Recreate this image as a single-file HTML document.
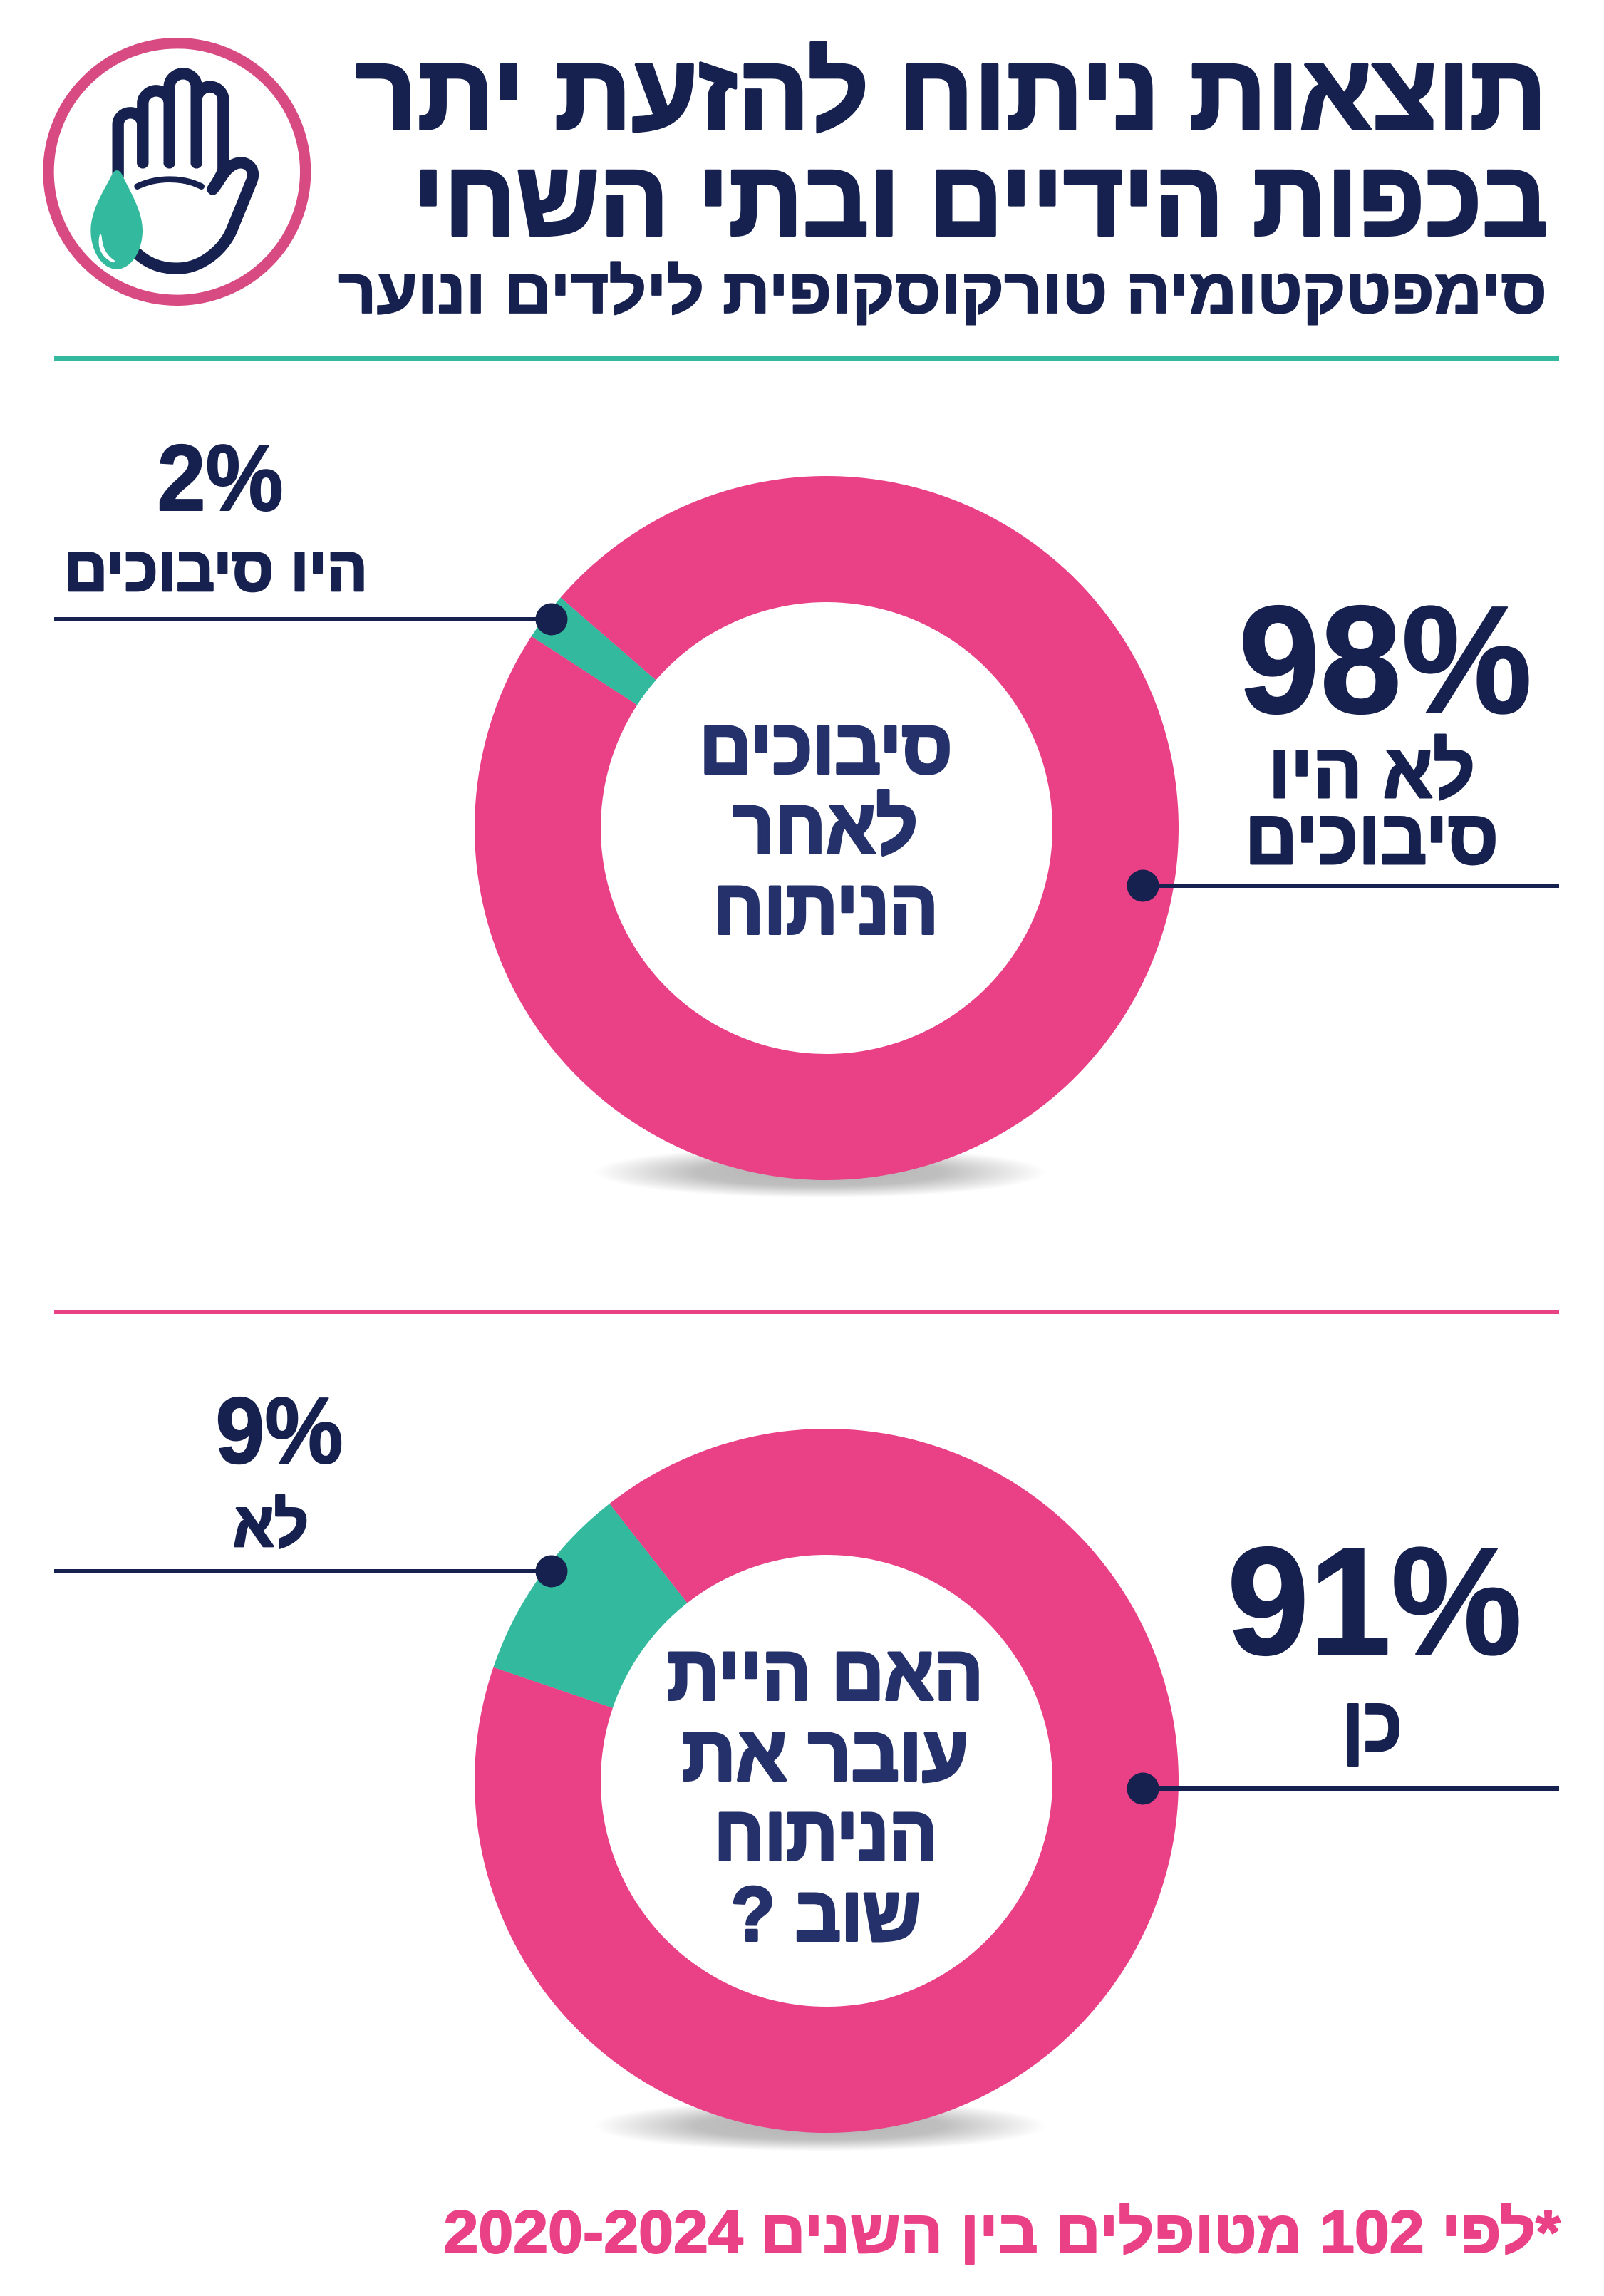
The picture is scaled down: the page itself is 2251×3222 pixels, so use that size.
<!DOCTYPE html>
<html lang="he">
<head>
<meta charset="utf-8">
<title>תוצאות ניתוח להזעת יתר</title>
<style>
html,body{margin:0;padding:0;background:#fff;}
svg{display:block;}
text{font-family:"Liberation Sans","Noto Sans CJK JP",sans-serif;font-weight:700;text-anchor:middle;stroke-linejoin:round;}
.he{direction:rtl;}
.navy{fill:#16214f;stroke:#16214f;}
.mid{fill:#24316a;stroke:#24316a;stroke-width:4;}
.s2{stroke-width:2;}
.s3{stroke-width:3;}
.s4{stroke-width:4;}
</style>
</head>
<body>
<svg xmlns="http://www.w3.org/2000/svg" width="2251" height="3222" viewBox="0 0 2251 3222">
  <defs>
    <radialGradient id="shadow-gradient">
      <stop offset="0" stop-color="#000" stop-opacity="0.3"/>
      <stop offset="0.55" stop-color="#000" stop-opacity="0.25"/>
      <stop offset="1" stop-color="#000" stop-opacity="0"/>
    </radialGradient>
  </defs>
  <rect width="2251" height="3222" fill="#fff"/>

  <g transform="translate(40 40) scale(0.33333)">
    <circle cx="625" cy="603" r="541" fill="none" stroke="#d74a82" stroke-width="46"/>
    <g fill="none" stroke="#16214f" stroke-width="49" stroke-linecap="round" stroke-linejoin="round">
      <path d="M377 620V405C377 375 402 355 429 355C457 355 481 378 481 405V565"/>
      <path d="M481 565V315C481 285 510 262 537 262C566 262 593 285 593 315V565"/>
      <path d="M593 565V245C593 212 622 190 650 190C680 190 707 212 707 245V565"/>
      <path d="M707 565V300C707 270 735 245 763 245C795 245 820 270 820 300V590C820 605 800 640 776 676"/>
      <path d="M776 676C800 650 815 610 845 585C870 565 900 558 925 575C945 590 950 615 940 640L855 850C820 930 730 1010 625 1010C550 1010 500 985 460 950"/>
      <path d="M458 665C540 625 650 625 728 665" stroke-width="26"/>
    </g>
    <path d="M372 597C385 597 392 610 400 628C430 690 480 770 480 850C480 940 430 1013 372 1013C312 1013 262 940 262 850C262 770 312 690 345 628C353 610 360 597 372 597Z" fill="#33b99d"/>
    <path d="M300 868C288 910 300 960 355 985C365 985 368 980 360 975C325 950 312 920 308 875C306 865 302 865 300 868Z" fill="#fff"/>
  </g>

  <text class="he navy s4" x="1335" y="181" font-size="149" textLength="1672" lengthAdjust="spacingAndGlyphs">תוצאות ניתוח להזעת יתר</text>
  <text class="he navy s4" x="1376" y="330" font-size="149" textLength="1593" lengthAdjust="spacingAndGlyphs">בכפות הידיים ובתי השחי</text>
  <text class="he navy s2" x="1323" y="439" font-size="88" textLength="1696" lengthAdjust="spacingAndGlyphs">סימפטקטומיה טורקוסקופית לילדים ונוער</text>
  <rect x="76" y="500" width="2112" height="6" fill="#33b99d"/>

  <ellipse cx="1151" cy="1645" rx="318" ry="36" fill="url(#shadow-gradient)"/>
  <g id="donut-1"></g>

  <text class="he mid" x="1159" y="1085" font-size="108" textLength="355" lengthAdjust="spacingAndGlyphs">סיבוכים</text>
  <text class="he mid" x="1158" y="1197" font-size="108" textLength="260" lengthAdjust="spacingAndGlyphs">לאחר</text>
  <text class="he mid" x="1159" y="1310" font-size="108" textLength="316" lengthAdjust="spacingAndGlyphs">הניתוח</text>

  <text class="navy s2" x="309" y="716" font-size="132" textLength="177" lengthAdjust="spacingAndGlyphs">2%</text>
  <text class="he navy s3" x="303" y="829" font-size="88" textLength="426" lengthAdjust="spacingAndGlyphs">היו סיבוכים</text>
  <rect x="76" y="866" width="698" height="6" fill="#16214f"/>
  <circle cx="774" cy="869" r="22.5" fill="#16214f"/>

  <text class="navy s2" x="1944" y="1000" font-size="215" textLength="412" lengthAdjust="spacingAndGlyphs">98%</text>
  <text class="he navy s3" x="1925" y="1119" font-size="108" textLength="290" lengthAdjust="spacingAndGlyphs">לא היו</text>
  <text class="he navy s3" x="1925" y="1212" font-size="108" textLength="356" lengthAdjust="spacingAndGlyphs">סיבוכים</text>
  <rect x="1604" y="1240" width="584" height="6" fill="#16214f"/>
  <circle cx="1604" cy="1243" r="22.5" fill="#16214f"/>

  <rect x="76" y="1838" width="2112" height="6" fill="#ea4086"/>

  <ellipse cx="1151" cy="2983" rx="318" ry="36" fill="url(#shadow-gradient)"/>
  <g id="donut-2"></g>

  <text class="he mid" x="1158" y="2385" font-size="108" textLength="444" lengthAdjust="spacingAndGlyphs">האם היית</text>
  <text class="he mid" x="1158" y="2498" font-size="108" textLength="402" lengthAdjust="spacingAndGlyphs">עובר את</text>
  <text class="he mid" x="1159" y="2610" font-size="108" textLength="314" lengthAdjust="spacingAndGlyphs">הניתוח</text>
  <text class="he mid" x="1159" y="2723" font-size="108" textLength="266" lengthAdjust="spacingAndGlyphs">שוב ?</text>

  <text class="navy s2" x="392" y="2053" font-size="132" textLength="179" lengthAdjust="spacingAndGlyphs">9%</text>
  <text class="he navy s3" x="380" y="2170" font-size="88" textLength="106" lengthAdjust="spacingAndGlyphs">לא</text>
  <rect x="76" y="2202" width="698" height="6" fill="#16214f"/>
  <circle cx="774" cy="2205" r="22.5" fill="#16214f"/>

  <text class="navy s2" x="1929" y="2321" font-size="215" textLength="414" lengthAdjust="spacingAndGlyphs">91%</text>
  <text class="he navy s3" x="1926" y="2457" font-size="108" textLength="84" lengthAdjust="spacingAndGlyphs">כן</text>
  <rect x="1604" y="2507" width="584" height="6" fill="#16214f"/>
  <circle cx="1604" cy="2510" r="22.5" fill="#16214f"/>

  <text class="he s2" fill="#ea4086" stroke="#ea4086" x="1406" y="3161" font-size="84" textLength="1567" lengthAdjust="spacingAndGlyphs">*לפי 102 מטופלים בין השנים 2020-2024</text>

  <script>
    const donut1Categories = ['היו סיבוכים', 'לא היו סיבוכים'];
    const donut1Values = [2.2, 97.8];
    const donut2Categories = ['לא', 'כן'];
    const donut2Values = [9.2, 90.8];
    const sliceColors = ['#33b99d', '#ea4086'];

    const SVG_NS = 'http://www.w3.org/2000/svg';
    const OUTER_RADIUS = 494;
    const INNER_RADIUS = 317;

    function valueToDegrees(value, total) {
      return value / total * 360;
    }

    function polarPoint(cx, cy, radius, degrees) {
      const radians = degrees * Math.PI / 180;
      return [cx + radius * Math.sin(radians), cy - radius * Math.cos(radians)];
    }

    function ringPath(cx, cy, startDeg, endDeg) {
      const large = endDeg - startDeg > 180 ? 1 : 0;
      const a = polarPoint(cx, cy, OUTER_RADIUS, startDeg);
      const b = polarPoint(cx, cy, OUTER_RADIUS, endDeg);
      const c = polarPoint(cx, cy, INNER_RADIUS, endDeg);
      const d = polarPoint(cx, cy, INNER_RADIUS, startDeg);
      return 'M' + a[0] + ' ' + a[1] +
        'A' + OUTER_RADIUS + ' ' + OUTER_RADIUS + ' 0 ' + large + ' 1 ' + b[0] + ' ' + b[1] +
        'L' + c[0] + ' ' + c[1] +
        'A' + INNER_RADIUS + ' ' + INNER_RADIUS + ' 0 ' + large + ' 0 ' + d[0] + ' ' + d[1] + 'Z';
    }

    function drawDonut(groupId, categories, values, cx, cy, startDeg) {
      const group = document.getElementById(groupId);
      const total = values.reduce(function (sum, v) { return sum + v; }, 0);
      let angle = startDeg;
      values.forEach(function (value, i) {
        const sweep = valueToDegrees(value, total);
        const slice = document.createElementNS(SVG_NS, 'path');
        slice.setAttribute('d', ringPath(cx, cy, angle, angle + Math.min(sweep, 359.99)));
        slice.setAttribute('fill', sliceColors[i % sliceColors.length]);
        
        
        const tip = document.createElementNS(SVG_NS, 'title');
        tip.textContent = categories[i];
        slice.appendChild(tip);
        group.appendChild(slice);
        angle += sweep;
      });
    }

    drawDonut('donut-1', donut1Categories, donut1Values, 1160, 1162, -57);
    drawDonut('donut-2', donut2Categories, donut2Values, 1160, 2499, -71.2);
  </script>
</svg>
</body>
</html>
